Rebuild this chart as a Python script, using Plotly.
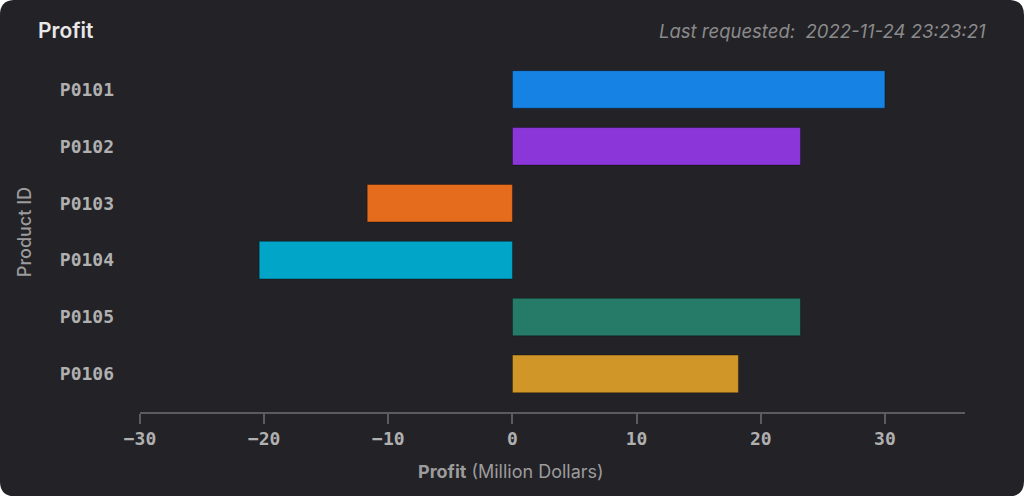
import plotly.graph_objects as go

# dados
produtos = ["P0101", "P0102", "P0103", "P0104", "P0105", "P0106"]
lucro = [30.0, 23.2, -11.7, -20.4, 23.2, 18.2]
cores = ["#1582e4", "#8a36d8", "#e56b1d", "#01a5c8", "#267b68", "#d09627"]
x_ticks = [-30, -20, -10, 0, 10, 20, 30]

W, H = 1024, 496
ml, mr, mt, mb = 140, 59, 61, 84.3
pw, ph = W - ml - mr, H - mt - mb

def px(x):
    return (x - ml) / pw

def py(y):
    return (H - mb - y) / ph

# fundo do cartao com cantos arredondados
r = 15
card = (
    f"M {px(r)},{py(0)} L {px(W - r)},{py(0)} Q {px(W)},{py(0)} {px(W)},{py(r)} "
    f"L {px(W)},{py(H - r)} Q {px(W)},{py(H)} {px(W - r)},{py(H)} "
    f"L {px(r)},{py(H)} Q {px(0)},{py(H)} {px(0)},{py(H - r)} "
    f"L {px(0)},{py(r)} Q {px(0)},{py(0)} {px(r)},{py(0)} Z"
)

fig = go.Figure()

fig.add_trace(go.Bar(
    x=lucro, y=produtos, orientation="h",
    marker=dict(color=cores, line=dict(color="rgba(0,0,0,0.3)", width=1)),
    width=0.66, showlegend=False,
))

mono = "DejaVu Sans Mono"
sans = "Inter"

fig.update_layout(
    width=W, height=H,
    margin=dict(l=ml, r=mr, t=mt, b=mb, pad=0),
    paper_bgcolor="#ffffff",
    plot_bgcolor="rgba(0,0,0,0)",
    shapes=[dict(type="path", path=card, xref="paper", yref="paper",
                 fillcolor="#232227", line=dict(width=0), layer="below")],
    title=dict(text="Profit", x=38 / W, xanchor="left", y=1 - 31 / H, yanchor="middle",
               font=dict(family=sans, size=21, color="#e8e8e8", weight=600)),
    xaxis=dict(
        range=[-30, 36.45], tickvals=x_ticks, showgrid=False, zeroline=False,
        showline=True, linecolor="#5c5b61", linewidth=1.5,
        ticks="outside", ticklen=10, tickcolor="#5c5b61", tickwidth=1.5,
        tickfont=dict(family=mono, size=18, color="#b0b0b0", weight="bold"),
    ),
    yaxis=dict(
        categoryorder="array", categoryarray=produtos, range=[5.67, -0.5],
        showgrid=False, zeroline=False, showline=False, ticks="",
        ticklabelstandoff=25,
        tickfont=dict(family=mono, size=18, color="#b0b0b0", weight="bold"),
    ),
    annotations=[
        dict(text="Last requested:&nbsp; 2022-11-24 23:23:21", xref="paper", yref="paper",
             x=px(988), y=py(31), xanchor="right", yanchor="middle", showarrow=False,
             font=dict(family=sans, size=18.5, color="#8a8a8a", style="italic")),
        dict(text="<b>Profit</b> (Million Dollars)", xref="paper", yref="paper",
             x=px(511), y=py(471), xanchor="center", yanchor="middle", showarrow=False,
             font=dict(family=sans, size=18, color="#9c9c9c")),
        dict(text="Product ID", xref="paper", yref="paper", textangle=-90,
             x=px(24), y=py(232), xanchor="center", yanchor="middle", showarrow=False,
             font=dict(family=sans, size=18, color="#9c9c9c", weight=500)),
    ],
)

fig.write_html("out.html", config={"displayModeBar": False},
               post_script="document.body.style.margin='0';")
